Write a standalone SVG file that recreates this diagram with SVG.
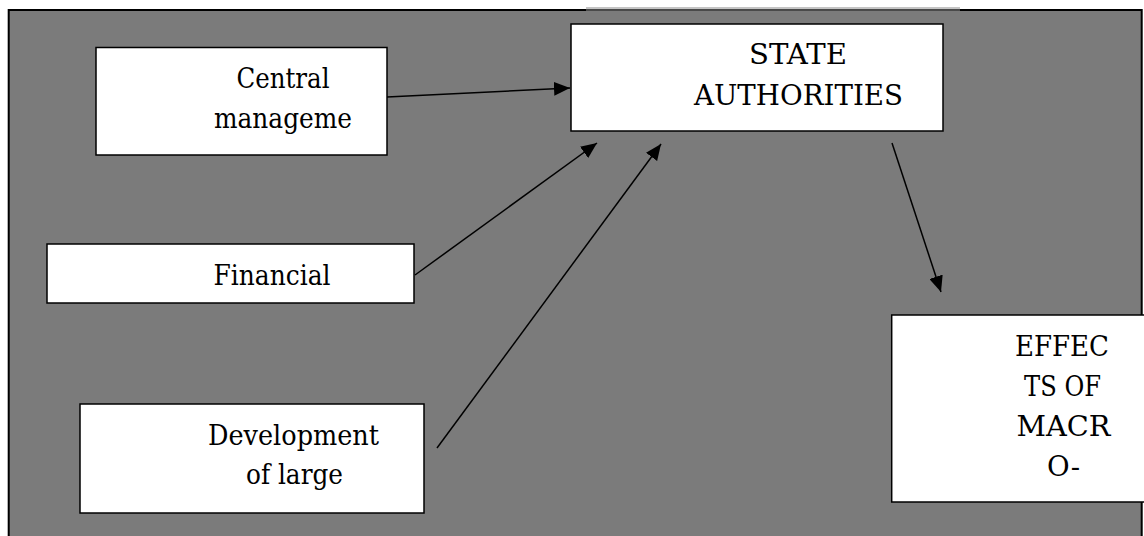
<svg xmlns="http://www.w3.org/2000/svg" width="1144" height="536" viewBox="0 0 1144 536">
  <style>
    .box { fill: #ffffff; stroke: #000000; stroke-width: 1.5; }
    .lbl { font-size: 28px; fill: #000000; text-anchor: middle; }
    .conn { stroke: #000000; stroke-width: 1.5; fill: none; marker-end: url(#arrow); }
  </style>
  <defs>
    <marker id="arrow" viewBox="0 0 16 14" refX="16" refY="7" markerWidth="16" markerHeight="14" markerUnits="userSpaceOnUse" orient="auto">
      <path d="M0,0 L16,7 L0,14 z" fill="#000000"/>
    </marker>
  </defs>
  <rect x="0" y="0" width="1144" height="536" fill="#ffffff"/>
  <g id="frame">
    <rect x="8.7" y="10" width="1133" height="540" fill="#7b7b7b" stroke="#000000" stroke-width="2"/>
    <line x1="586" y1="10" x2="960" y2="10" stroke="#4a4a4a" stroke-width="2"/>
    <line x1="586" y1="8" x2="960" y2="8" stroke="#c4c4c4" stroke-width="2"/>
  </g>
  <g id="connectors">
    <line class="conn" x1="387" y1="97" x2="570" y2="88"/>
    <line class="conn" x1="415" y1="275" x2="597" y2="143"/>
    <line class="conn" x1="437" y1="448" x2="661" y2="144"/>
    <line class="conn" x1="892" y1="143" x2="941" y2="292"/>
  </g>
  <g font-family="DejaVu Serif">
    <g id="node-central">
      <rect class="box" x="96" y="47.5" width="291" height="107.5"/>
      <text class="lbl" x="283" y="88" textLength="93" lengthAdjust="spacingAndGlyphs">Central</text>
      <text class="lbl" x="283" y="128" textLength="138" lengthAdjust="spacingAndGlyphs">manageme</text>
    </g>
    <g id="node-state">
      <rect class="box" x="571" y="24" width="372" height="107"/>
      <text class="lbl" x="798" y="64" textLength="98" lengthAdjust="spacingAndGlyphs">STATE</text>
      <text class="lbl" x="798.5" y="105" textLength="209" lengthAdjust="spacingAndGlyphs">AUTHORITIES</text>
    </g>
    <g id="node-financial">
      <rect class="box" x="47" y="244" width="367" height="59"/>
      <text class="lbl" x="272" y="285" textLength="117" lengthAdjust="spacingAndGlyphs">Financial</text>
    </g>
    <g id="node-development">
      <rect class="box" x="80" y="404" width="344" height="109"/>
      <text class="lbl" x="293.5" y="445" textLength="171" lengthAdjust="spacingAndGlyphs">Development</text>
      <text class="lbl" x="294.5" y="484" textLength="97" lengthAdjust="spacingAndGlyphs">of large</text>
    </g>
    <g id="node-effects">
      <rect class="box" x="891.7" y="315" width="260" height="187"/>
      <text class="lbl" x="1062" y="356" textLength="94" lengthAdjust="spacingAndGlyphs">EFFEC</text>
      <text class="lbl" x="1062.5" y="396" textLength="77" lengthAdjust="spacingAndGlyphs">TS OF</text>
      <text class="lbl" x="1063.5" y="436" textLength="94" lengthAdjust="spacingAndGlyphs">MACR</text>
      <text class="lbl" x="1063.5" y="476" textLength="33" lengthAdjust="spacingAndGlyphs">O-</text>
    </g>
  </g>
</svg>
